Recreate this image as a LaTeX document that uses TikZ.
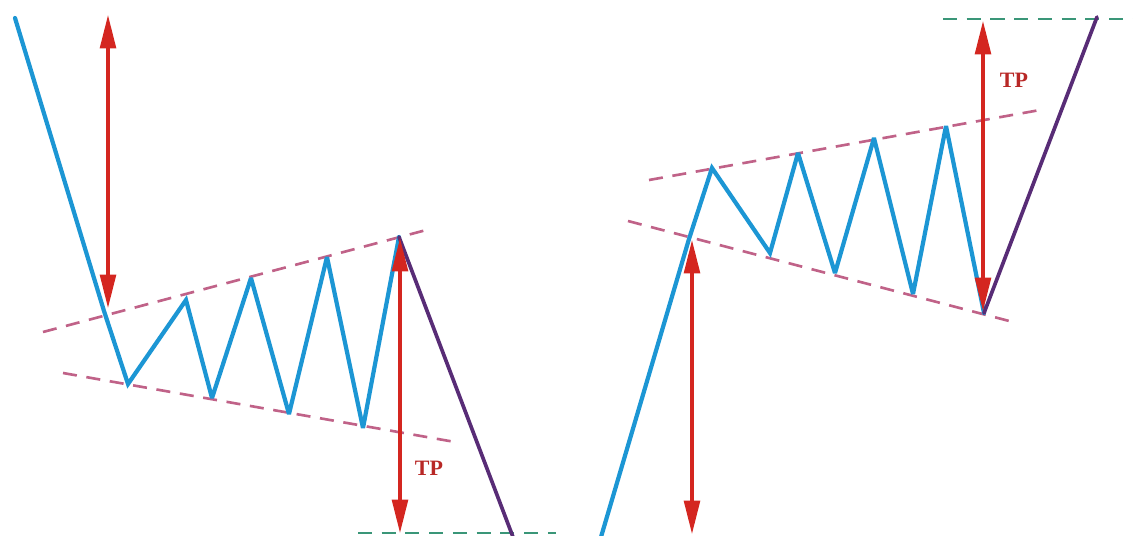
\documentclass[tikz,border=0pt]{standalone}
\usepackage{fontspec}
\setmainfont{Liberation Serif}
\usetikzlibrary{arrows.meta}
\definecolor{priceblue}{RGB}{28,150,212}
\definecolor{breakpurple}{RGB}{88,44,118}
\definecolor{tpred}{RGB}{212,38,32}
\definecolor{tptext}{RGB}{184,40,38}
\definecolor{trendpink}{RGB}{192,98,136}
\definecolor{targetgreen}{RGB}{58,150,120}
\tikzset{
  price/.style={draw=priceblue,line width=2.4pt,line join=miter,miter limit=3,line cap=round},
  breakline/.style={draw=breakpurple,line width=2.1pt,line cap=round},
  trend/.style={draw=trendpink,line width=1.5pt,dash pattern=on 8pt off 5.5pt},
  target/.style={draw=targetgreen,line width=1.5pt,dash pattern=on 8pt off 5.5pt},
  measure/.style={draw=tpred,line width=1.8pt,
    {Triangle[length=19pt,width=9pt,fill=tpred]}-{Triangle[length=19pt,width=9pt,fill=tpred]}},
  tplabel/.style={text=tptext,font=\fontsize{12.5}{14}\selectfont\bfseries,inner sep=0pt}
}
\begin{document}
\begin{tikzpicture}[x=0.02cm,y=-0.02cm]
\useasboundingbox (0,0) rectangle (1133,535);
% ---- left pattern (bearish) ----
\coordinate (Ls) at (15,18);
\coordinate (Lb) at (104,311);
\coordinate (L1) at (128,384);
\coordinate (H1) at (186,300);
\coordinate (L2) at (212,398);
\coordinate (H2) at (251,278);
\coordinate (L3) at (289,414);
\coordinate (H3) at (327,257);
\coordinate (L4) at (363,428);
\coordinate (H4) at (399,237);
\coordinate (Le) at (513,537);
\coordinate (LuA) at (43,332);
\coordinate (LuB) at (430,229);
\coordinate (LlA) at (63,373);
\coordinate (LlB) at (455,442);
\coordinate (LgA) at (358,533);
\coordinate (LgB) at (556,533);
\coordinate (LaT) at (108,15);
\coordinate (LaB) at (108,308);
\coordinate (LtT) at (400,238);
\coordinate (LtB) at (400,533);
\draw[trend] (LuA) -- (LuB);
\draw[trend] (LlA) -- (LlB);
\draw[target] (LgA) -- (LgB);
\draw[price] (Ls) -- (Lb) -- (L1) -- (H1) -- (L2) -- (H2) -- (L3) -- (H3) -- (L4) -- (H4);
\draw[breakline] (H4) -- (Le);
\draw[measure] (LaT) -- (LaB);
\draw[measure] (LtT) -- (LtB);
\node[tplabel] (tpL) at (429,468) {TP};
% ---- right pattern (bullish) ----
\coordinate (Rs) at (601,537);
\coordinate (Rb) at (689,239);
\coordinate (RH1) at (712,168);
\coordinate (RL1) at (770,253);
\coordinate (RH2) at (798,153);
\coordinate (RL2) at (835,273);
\coordinate (RH3) at (874,138);
\coordinate (RL3) at (913,294);
\coordinate (RH4) at (946,126);
\coordinate (RL4) at (984,313);
\coordinate (Re) at (1097,17);
\coordinate (RuA) at (649,180);
\coordinate (RuB) at (1040,110);
\coordinate (RlA) at (628,221);
\coordinate (RlB) at (1013,322);
\coordinate (RgA) at (943,19);
\coordinate (RgB) at (1133,19);
\coordinate (RaT) at (692,240);
\coordinate (RaB) at (692,534);
\coordinate (RtT) at (983,21);
\coordinate (RtB) at (983,311);
\draw[trend] (RuA) -- (RuB);
\draw[trend] (RlA) -- (RlB);
\draw[target] (RgA) -- (RgB);
\draw[price] (Rs) -- (Rb) -- (RH1) -- (RL1) -- (RH2) -- (RL2) -- (RH3) -- (RL3) -- (RH4) -- (RL4);
\draw[breakline] (RL4) -- (Re);
\draw[measure] (RaT) -- (RaB);
\draw[measure] (RtT) -- (RtB);
\node[tplabel] (tpR) at (1014,80) {TP};
\end{tikzpicture}
\end{document}
